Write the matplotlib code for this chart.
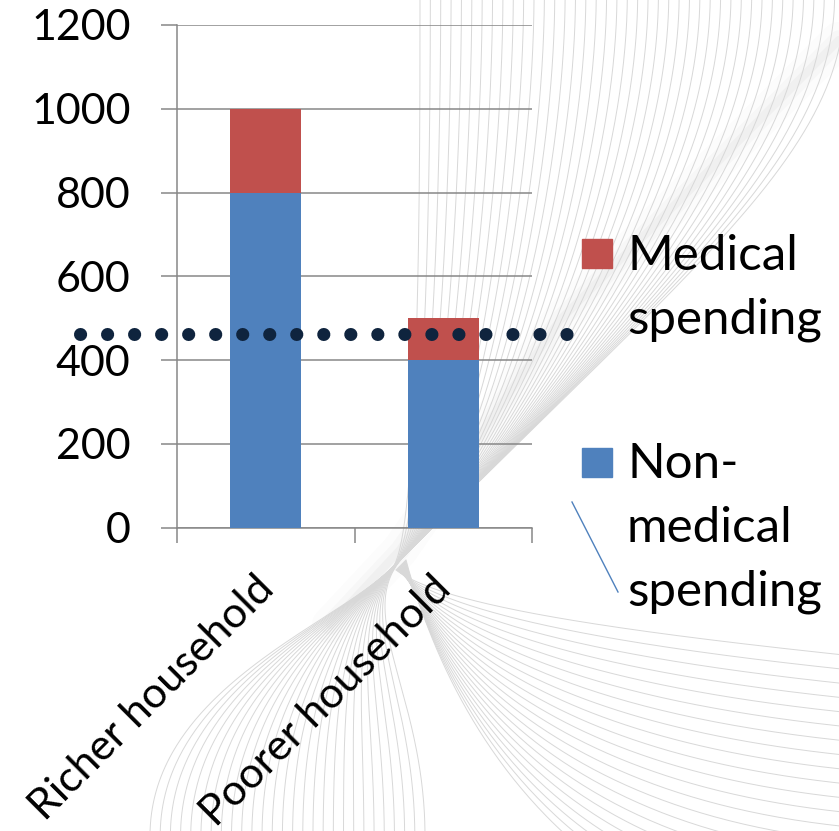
import matplotlib.pyplot as plt
import matplotlib.transforms as mtransforms
from matplotlib.patches import Rectangle
from matplotlib.lines import Line2D
import numpy as np

plt.rcParams['font.family'] = ['Lato', 'DejaVu Sans']

# spending per household
households = ['Richer household', 'Poorer household']
non_medical = [800, 400]
medical = [200, 100]
poverty_line = 462
y_ticks = [0, 200, 400, 600, 800, 1000, 1200]

labels = ['Medical\nspending', 'Non-\nmedical\nspending']
colors = ['#c0504d', '#4f81bd']
grid_col = '#878787'

W, H = 839, 831
fig = plt.figure(figsize=(W / 100, H / 100), dpi=100)


def bezier(p0, p1, p2, p3, n=150):
    t = np.linspace(0, 1, n)[:, None]
    pts = ((1 - t) ** 3 * np.array(p0) + 3 * (1 - t) ** 2 * t * np.array(p1)
           + 3 * (1 - t) * t ** 2 * np.array(p2) + t ** 3 * np.array(p3))
    return pts[:, 0], pts[:, 1]


# decorative swoosh behind the chart (pixel coords, y down)
bg = fig.add_axes([0, 0, 1, 1], zorder=0)
bg.set_xlim(0, W)
bg.set_ylim(H, 0)
bg.axis('off')
line_kw = dict(color='#d8d8d8', lw=0.7)
d = np.array([-1.0, 1.0]) / np.sqrt(2)   # band direction, heading down-left

for lw, a in [(26, 0.02), (14, 0.035), (6, 0.05)]:
    bg.plot([839, 560, 400, 330], [40, 320, 550, 625], color='#7a7a7a',
            lw=lw, alpha=a, solid_capstyle='round')

for k in np.linspace(0, 1, 42):
    q = np.array([392 + 14 * k, 568 - 14 * k])
    tx = 420 + 425 * k
    x, y = bezier((tx, -5), (tx, 150), q - d * (40 + 380 * k), q)
    bg.plot(x, y, **line_kw)
for k in np.linspace(0, 1, 28):
    q = np.array([392 + 14 * k, 568 - 14 * k])
    bx = 150 + 275 * k
    x, y = bezier(q, q + d * 80, (bx, 690), (bx, H + 5))
    bg.plot(x, y, **line_kw)
for k in np.linspace(0, 1, 22):
    q = np.array([396 + 10 * k, 570 - 10 * k])
    ry = 640 + 300 * k
    x, y = bezier(q, (q[0] + 40, q[1] + 30 + 120 * k), (560, ry - 15), (W + 5, ry + 15))
    bg.plot(x, y, **line_kw)

ax = fig.add_axes([177 / W, 1 - 527.7 / H, (532 - 177) / W, (527.7 - 25) / H], zorder=1)
ax.patch.set_alpha(0)

x = np.arange(len(households))
ax.bar(x, non_medical, width=0.4, color=colors[1], zorder=3)
ax.bar(x, medical, width=0.4, bottom=non_medical, color=colors[0], zorder=3)

ax.plot([-1.0465, 1.705], [poverty_line, poverty_line], color='#0f243e', lw=9.4,
        linestyle=(0, (0.01, 2.06)), dash_capstyle='round', clip_on=False, zorder=4)

ax.set_xlim(-0.5, 1.5)
ax.set_ylim(0, 1200)
ax.set_yticks(y_ticks)
ax.set_yticklabels([str(v) for v in y_ticks])
ax.yaxis.grid(True, color=grid_col, lw=1.1, zorder=0)
ax.tick_params(axis='y', length=11.5, width=1.1, color=grid_col, pad=22, labelsize=31)

ax.set_xticks([-0.5, 0.5, 1.5])
ax.set_xticklabels([])
ax.set_xticks(x, minor=True)
ax.set_xticklabels(households, minor=True, rotation=45, ha='right', va='top',
                   rotation_mode='anchor', fontsize=31)
ax.tick_params(axis='x', which='major', length=11, width=1.1, color=grid_col)
ax.tick_params(axis='x', which='minor', length=0, pad=30)
shift = mtransforms.ScaledTranslation(-12 / 100, 0, fig.dpi_scale_trans)
for lab in ax.get_xticklabels(minor=True):
    lab.set_transform(lab.get_transform() + shift)

for s in ['top', 'right']:
    ax.spines[s].set_visible(False)
for s in ['left', 'bottom']:
    ax.spines[s].set_color(grid_col)
    ax.spines[s].set_linewidth(1.1)
ax.spines['left'].set_bounds(0, 1200)

# legend drawn by hand so the swatch sits on the first text line
fig.add_artist(Line2D([572 / W, 618 / W], [1 - 502 / H, 1 - 592 / H],
                      color=colors[1], lw=1.0))
swatch_top = [239, 448]
first_base = [270, 478]
line_step = 64
for lab, col, sy, by in zip(labels, colors, swatch_top, first_base):
    fig.add_artist(Rectangle((582 / W, 1 - (sy + 29) / H), 30 / W, 29 / H,
                             color=col, transform=fig.transFigure))
    for i, part in enumerate(lab.split('\n')):
        fig.text(627 / W, 1 - (by + i * line_step) / H, part, fontsize=35.5,
                 va='baseline', ha='left')

fig.savefig('out.png', dpi=100)
